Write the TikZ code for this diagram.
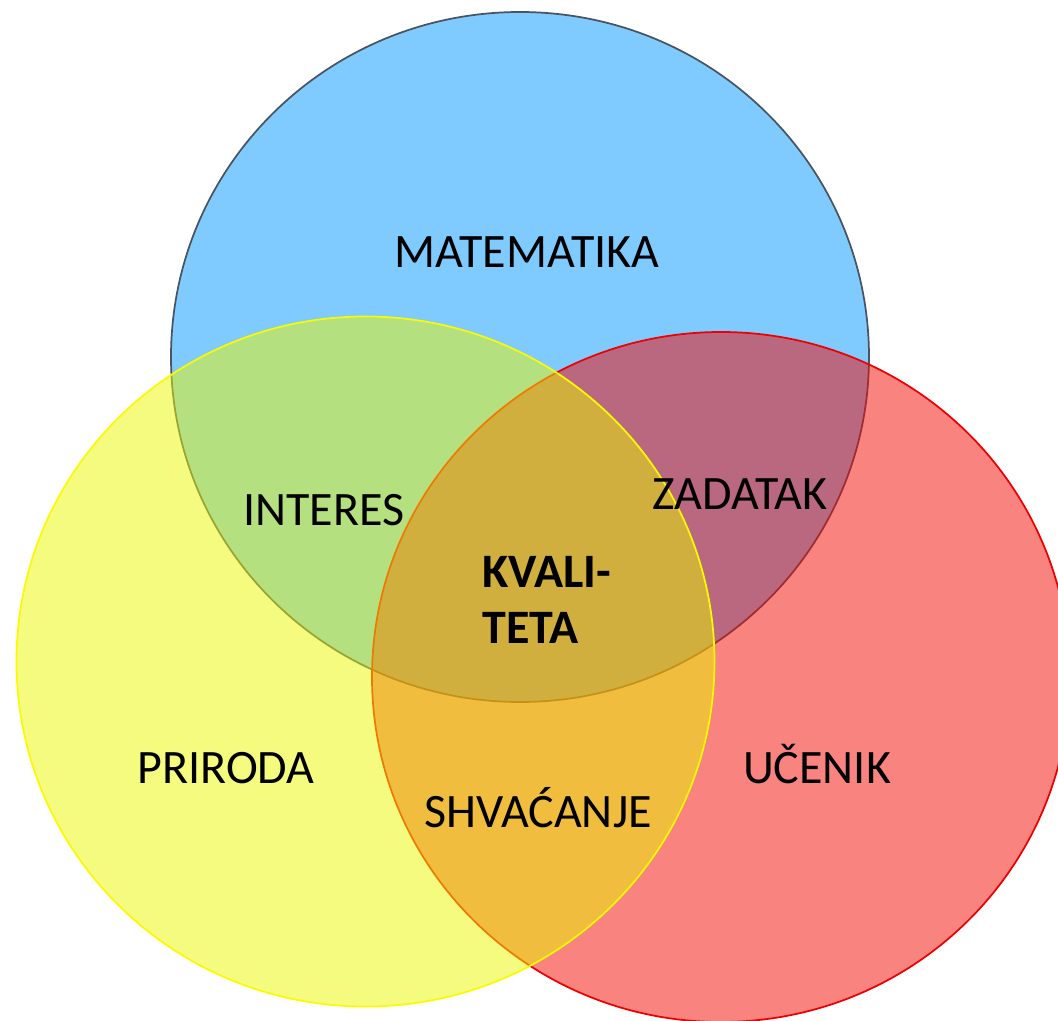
\documentclass[tikz,border=0pt]{standalone}
\usepackage{fontspec}
\setmainfont{Carlito}
\definecolor{cblue}{RGB}{0,149,255}
\definecolor{cblueedge}{RGB}{72,84,96}
\definecolor{cred}{RGB}{243,7,0}
\definecolor{credge}{RGB}{238,0,0}
\definecolor{cyellow}{RGB}{235,247,0}
\definecolor{cyellowedge}{RGB}{250,250,0}
\tikzset{
  venn/.style={line width=1.3pt, fill opacity=0.5, draw opacity=1},
  lbl/.style={anchor=base, inner sep=0pt, font=\fontsize{36pt}{42pt}\selectfont, text=black},
}
\begin{document}
\begin{tikzpicture}[x=0.75pt,y=-0.75pt]
\useasboundingbox (0,0) rectangle (1058,1021);
\begin{scope}
\clip (0,0) rectangle (1058,1021);
\draw[venn, draw=cblueedge, fill=cblue] (520,357) ellipse[x radius=261.75pt, y radius=258.75pt];
\draw[venn, draw=credge, fill=cred] (721,677) ellipse[x radius=261.75pt, y radius=258.75pt];
\draw[venn, draw=cyellowedge, fill=cyellow] (365.5,661.5) ellipse[x radius=261.75pt, y radius=258.75pt];
\end{scope}
\node[lbl] (mat) at (527,267) {MATEMATIKA};
\node[lbl] (int) at (324,525) {INTERES};
\node[lbl] (zad) at (740,509) {ZADATAK};
\node[lbl, anchor=base west, font=\fontsize{36pt}{42pt}\selectfont\bfseries] (kv1) at (482,587) {KVALI-};
\node[lbl, anchor=base west, font=\fontsize{36pt}{42pt}\selectfont\bfseries] (kv2) at (482,643) {TETA};
\node[lbl] (pri) at (226,783) {PRIRODA};
\node[lbl] (uce) at (817,783) {UČENIK};
\node[lbl] (shv) at (538,827) {SHVAĆANJE};
\end{tikzpicture}
\end{document}
